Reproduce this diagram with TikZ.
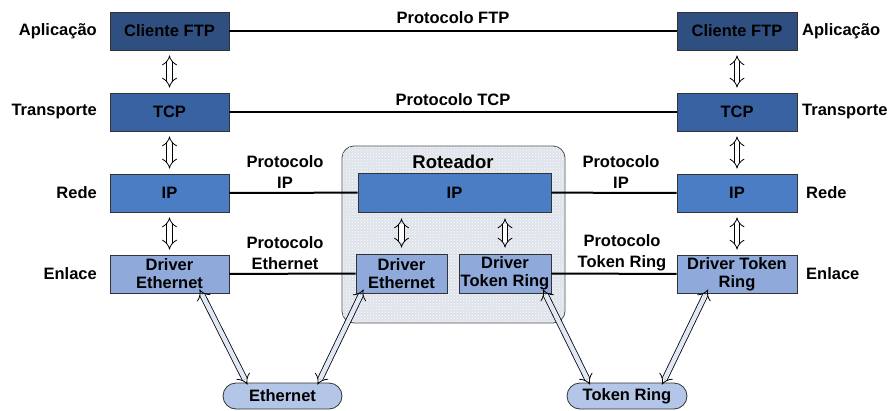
\documentclass[tikz,border=0pt]{standalone}
\usepackage{fontspec}
\setmainfont{Liberation Sans}
\usepackage{tikz}
\usetikzlibrary{arrows.meta, patterns}

\definecolor{corApl}{RGB}{47,79,128}
\definecolor{corTransp}{RGB}{57,98,162}
\definecolor{corRede}{RGB}{74,125,196}
\definecolor{corEnlace}{RGB}{143,170,218}
\definecolor{corMeio}{RGB}{180,198,231}
\definecolor{corRoteador}{RGB}{222,227,235}

\begin{document}
\begin{tikzpicture}[x=1pt, y=-1pt,
        box/.style={draw=black!80, line width=0.8pt, minimum height=38pt, inner sep=0pt,
            align=center, font=\fontsize{16.5}{18}\selectfont\bfseries},
        nivel/.style={font=\fontsize{16.5}{18}\selectfont\bfseries, inner sep=0pt},
        proto/.style={font=\fontsize{16.5}{21}\selectfont\bfseries, align=center, inner sep=0pt},
        meio/.style={draw=black!80, line width=0.8pt, fill=corMeio, rounded corners=13pt,
            minimum width=119pt, minimum height=26pt, font=\fontsize{16.5}{18}\selectfont\bfseries},
        conn/.style={line width=2pt},
        dupla/.style={{Implies}-{Implies}, double=white, double distance=4.5pt, line width=0.8pt}
    ]
    \useasboundingbox (0,0) rectangle (889,410);

    % roteador
    \node[draw=black!70, line width=0.8pt, rounded corners=12pt, fill=corRoteador,
        postaction={pattern=crosshatch dots, pattern color=white},
        minimum width=223pt, minimum height=177pt] (rot) at (453.5,234.5) {};
    \node[font=\fontsize{18.5}{20}\selectfont\bfseries] (rottit) at (453,162) {Roteador};

    % pilha da esquerda
    \node[box, fill=corApl, minimum width=119pt] (ftpA) at (169.5,31) {Cliente FTP};
    \node[box, fill=corTransp, minimum width=119pt] (tcpA) at (169.5,112) {TCP};
    \node[box, fill=corRede, minimum width=119pt] (ipA) at (169.5,193) {IP};
    \node[box, fill=corEnlace, minimum width=119pt] (ethA) at (169.5,274) {Driver\\Ethernet};

    % pilha da direita
    \node[box, fill=corApl, minimum width=120pt] (ftpB) at (737,31) {Cliente FTP};
    \node[box, fill=corTransp, minimum width=120pt] (tcpB) at (737,112) {TCP};
    \node[box, fill=corRede, minimum width=120pt] (ipB) at (737,193) {IP};
    \node[box, fill=corEnlace, minimum width=120pt] (trB) at (737,274) {Driver Token\\Ring};

    % pilha do roteador
    \node[box, fill=corRede, minimum width=193pt, minimum height=39pt] (ipR) at (454.5,192.5) {IP};
    \node[box, fill=corEnlace, minimum width=91pt, minimum height=39pt] (ethR) at (401.5,273.5) {Driver\\Ethernet};
    \node[box, fill=corEnlace, minimum width=92pt, minimum height=39pt] (trR) at (505,273.5) {Driver\\Token Ring};

    % meios fisicos
    \node[meio] (redeEth) at (282.5,396) {Ethernet};
    \node[meio, minimum width=120pt] (redeTR) at (627,396) {Token Ring};

    % niveis
    \node[nivel, anchor=east] (nA1) at (97,31) {Aplicação};
    \node[nivel, anchor=east] (nA2) at (97,112) {Transporte};
    \node[nivel, anchor=east] (nA3) at (97,193) {Rede};
    \node[nivel, anchor=east] (nA4) at (97,274) {Enlace};
    \node[nivel, anchor=west] (nB1) at (802,31) {Aplicação};
    \node[nivel, anchor=west] (nB2) at (802,112) {Transporte};
    \node[nivel, anchor=west] (nB3) at (806,193) {Rede};
    \node[nivel, anchor=west] (nB4) at (806,274) {Enlace};

    % protocolos
    \draw[conn] (ftpA) -- (ftpB);
    \draw[conn] (tcpA) -- (tcpB);
    \draw[conn] (ipA) -- (ipR);
    \draw[conn] (ipR) -- (ipB);
    \draw[conn] (ethA) -- (ethR);
    \draw[conn] (trR) -- (trB);
    \node[proto] (pFTP) at (453,18) {Protocolo FTP};
    \node[proto] (pTCP) at (453,100) {Protocolo TCP};
    \node[proto] (pIPA) at (285,172) {Protocolo\\IP};
    \node[proto] (pIPB) at (621,172) {Protocolo\\IP};
    \node[proto] (pEth) at (285,253) {Protocolo\\Ethernet};
    \node[proto] (pTR) at (622,253) {Protocolo\\Token Ring};

    % setas entre camadas
    \draw[dupla, shorten <=5pt, shorten >=5pt] (ftpA) -- (tcpA);
    \draw[dupla, shorten <=5pt, shorten >=5pt] (tcpA) -- (ipA);
    \draw[dupla, shorten <=5pt, shorten >=5pt] (ipA) -- (ethA);
    \draw[dupla, shorten <=5pt, shorten >=5pt] (ftpB) -- (tcpB);
    \draw[dupla, shorten <=5pt, shorten >=5pt] (tcpB) -- (ipB);
    \draw[dupla, shorten <=5pt, shorten >=5pt] (ipB) -- (trB);
    \draw[dupla, shorten <=6pt, shorten >=6pt] (ethR.north |- ipR.south) -- (ethR.north);
    \draw[dupla, shorten <=6pt, shorten >=6pt] (trR.north |- ipR.south) -- (trR.north);

    % setas para os meios
    \draw[dupla, double=corMeio!40] ([xshift=30pt, yshift=4pt]ethA.south) -- ([xshift=-35pt, yshift=-2pt]redeEth.north);
    \draw[dupla, double=corMeio!40] ([xshift=-38pt, yshift=4pt]ethR.south) -- ([xshift=35pt, yshift=-2pt]redeEth.north);
    \draw[dupla, double=corMeio!40] ([xshift=38pt, yshift=4pt]trR.south) -- ([xshift=-37pt, yshift=-2pt]redeTR.north);
    \draw[dupla, double=corMeio!40] ([xshift=-29pt, yshift=4pt]trB.south) -- ([xshift=35pt, yshift=-2pt]redeTR.north);

\end{tikzpicture}
\end{document}
